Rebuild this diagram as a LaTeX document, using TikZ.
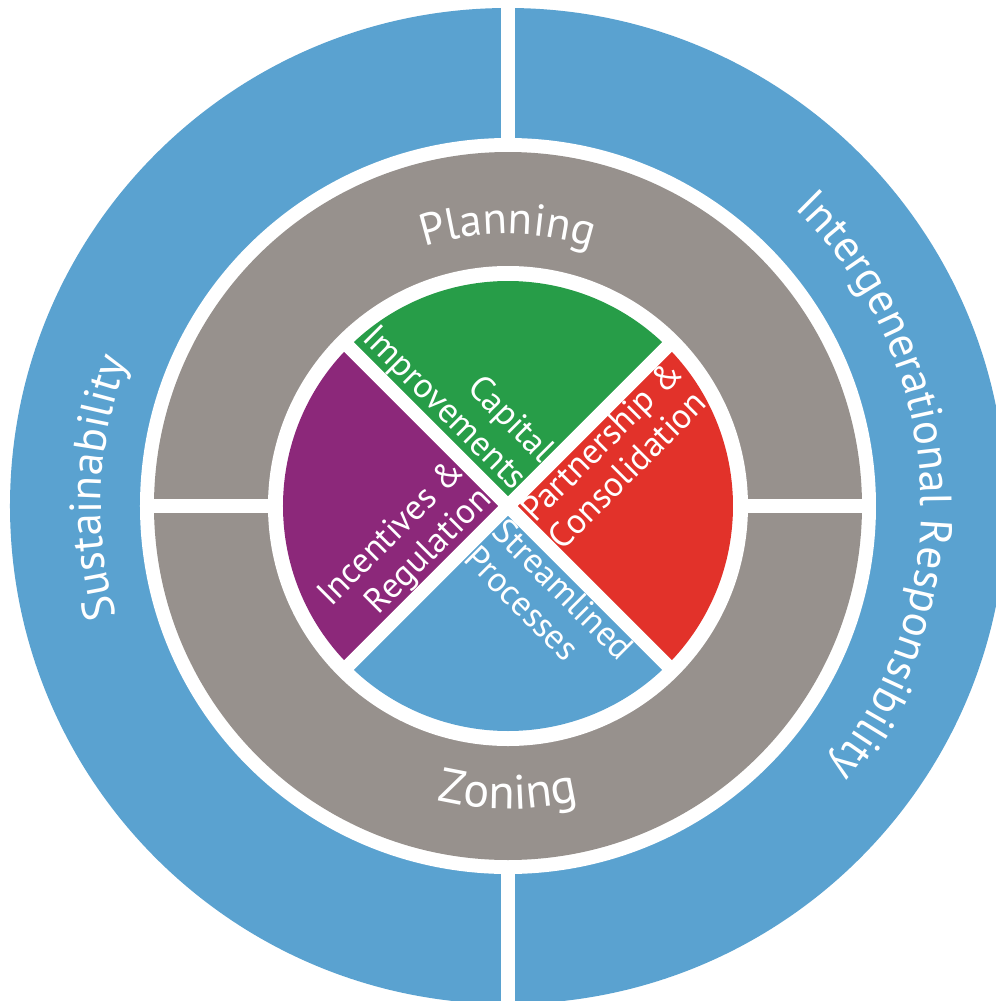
\documentclass[tikz,border=0pt]{standalone}
\usepackage{fontspec}
\setmainfont{PT Sans}
\usetikzlibrary{decorations.text}

\definecolor{ringblue}{HTML}{5AA2D0}
\definecolor{ringgray}{HTML}{97918D}
\definecolor{piegreen}{HTML}{279D48}
\definecolor{piered}{HTML}{E2322A}
\definecolor{piepurple}{HTML}{8C287A}

\newcommand{\arcfont}{\fontsize{25.5}{30}\selectfont}
\newcommand{\zonefont}{\fontsize{27.5}{32}\selectfont}
\newcommand{\piefont}{\fontsize{20}{22}\selectfont}

\tikzset{
	gap/.style={white,line width=2.7mm},
	arclabel/.style={decorate,decoration={text along path,text align=center,text color=white,text={|\arcfont|#1}}},
	pielabel/.style={text=white,font=\piefont,inner sep=0pt,outer sep=1.4mm},
}

\begin{document}
\begin{tikzpicture}[x=0.2mm,y=0.2mm]

	% frame.....................
	\useasboundingbox (-508,-495) rectangle (488,506);
	\clip (-508,-495) rectangle (488,506);
	\fill [white] (-508,-495) rectangle (488,506);

	% outer ring....................
	\fill [ringblue] (0,0) circle [radius=498];
	\fill [white] (0,0) circle [radius=368];
	\draw [gap] (0,360) to (0,520);
	\draw [gap] (0,-360) to (0,-520);

	% middle ring....................
	\fill [ringgray] (0,0) circle [radius=354];
	\fill [white] (0,0) circle [radius=240];
	\draw [gap] (-360,0) to (-235,0);
	\draw [gap] (235,0) to (360,0);

	% pie sectors...................
	\foreach \a/\c in {45/piegreen,135/piepurple,225/ringblue,315/piered}
		\fill [\c] (0,0) -- (\a:225) arc [start angle=\a,delta angle=90,radius=225] -- cycle;
	\draw [gap] (45:232) to (225:232);
	\draw [gap] (135:232) to (-45:232);

	% pie labels.....................
	\node [pielabel,rotate=-45,anchor=south east,align=right] (capital) at (0,0) {Capital\\Improvements};
	\node [pielabel,rotate=45,anchor=north west,align=left] (partner) at (0,0) {Partnership \&\\Consolidation};
	\node [pielabel,rotate=-45,anchor=north west,align=left] (stream) at (0,0) {Streamlined\\Processes};
	\node [pielabel,rotate=45,anchor=south east,align=right] (incent) at (0,0) {Incentives \&\\Regulation};

	% ring labels.....................
	\path [arclabel=Planning] (120:272) arc [start angle=120,end angle=60,radius=272];
	\path [decorate,decoration={text along path,text align=center,text color=white,text={|\zonefont|Zoning}}]
		(250:303) arc [start angle=250,end angle=290,radius=303];
	\path [arclabel=Sustainability] (207.4:407) arc [start angle=207.4,end angle=147.4,radius=407];
	\path [arclabel={Intergenerational Responsibility}] (63.5:413) arc [start angle=63.5,end angle=-56.5,radius=413];

\end{tikzpicture}
\end{document}
